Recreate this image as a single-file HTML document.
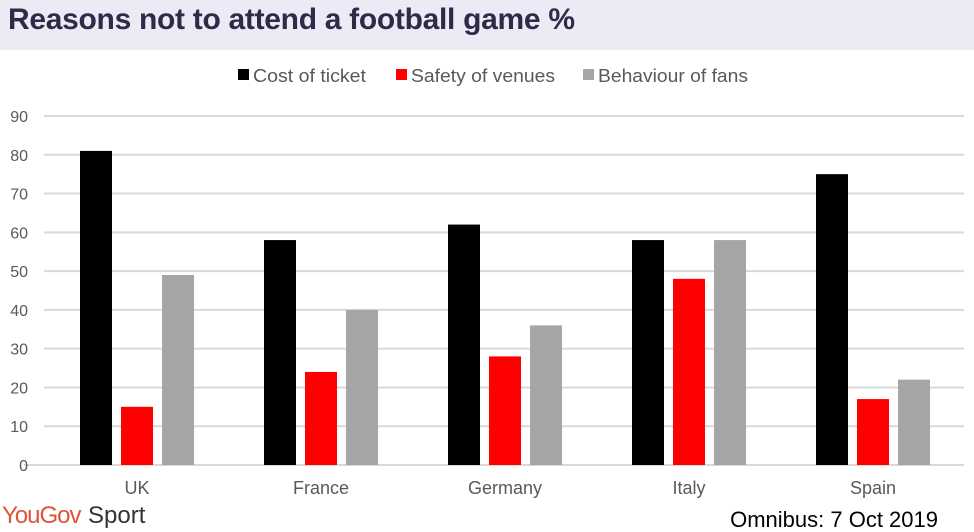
<!DOCTYPE html>
<html><head><meta charset="utf-8"><style>
body{margin:0;width:974px;height:532px;background:#fff;overflow:hidden;font-family:"Liberation Sans",sans-serif}
#title{position:absolute;left:0;top:0;width:974px;height:50px;background:#ecebf5}
#title h1{margin:0;position:absolute;left:8px;top:3px;font-size:30px;font-weight:bold;color:#2e2a48;letter-spacing:-0.3px}
svg{position:absolute;left:0;top:0}
</style></head><body>
<div id="title"><h1>Reasons not to attend a football game %</h1></div>
<svg id="chart" width="974" height="532"></svg>
<script>
const categories=["UK","France","Germany","Italy","Spain"];
const cost=[81,58,62,58,75];
const safety=[15,24,28,48,17];
const behaviour=[49,40,36,58,22];
const seriesNames=["Cost of ticket","Safety of venues","Behaviour of fans"];
const yTicks=[0,10,20,30,40,50,60,70,80,90];
const colors=["#000000","#ff0000","#a6a6a6"];
const ns="http://www.w3.org/2000/svg";
const svg=document.getElementById('chart');
const y0=465,yScale=38.78/10;
const y=v=>y0-v*yScale;
const groupW=184,x0=45;
const xc=i=>x0+groupW*i+groupW/2;
function mk(t,a){const e=document.createElementNS(ns,t);for(const k in a)e.setAttribute(k,a[k]);svg.appendChild(e);return e;}
yTicks.forEach(t=>{
 const l=mk('line',{x1:t===0?24:44,x2:964,y1:y(t),y2:y(t),stroke:'#d9d9d9','stroke-width':2});
 
 
 const tx=mk('text',{x:28,y:y(t)+6,'text-anchor':'end','font-size':16,fill:'#595959'});
 tx.textContent=t;
 
 
});
const series=[cost,safety,behaviour];
categories.forEach((c,i)=>{
 series.forEach((s,j)=>{
  const bx=xc(i)+(j-1)*41-16;
  const r=mk('rect',{x:bx,y:y(s[i]),width:32,height:s[i]*yScale,fill:colors[j]});
  
  
 });
 const t=mk('text',{x:xc(i),y:494,'text-anchor':'middle','font-size':18,fill:'#595959'});
 t.textContent=c;
 
 
});
const legX=[238,396,583];
const legW=[113,144,150];
seriesNames.forEach((n,j)=>{
 const r=mk('rect',{x:legX[j],y:69,width:11,height:11,fill:colors[j]});
 
 
 const t=mk('text',{x:legX[j]+15,y:82,'font-size':18,fill:'#595959',textLength:legW[j],lengthAdjust:'spacingAndGlyphs'});
 t.textContent=n;
 
 
});
const yg=mk('text',{x:2,y:523,'font-size':24,fill:'#e0533a','letter-spacing':'-1'});
yg.textContent='YouGov';


const sp=mk('text',{x:88,y:523,'font-size':24,fill:'#333'});
sp.textContent='Sport';


const om=mk('text',{x:938,y:527,'text-anchor':'end','font-size':22,fill:'#000'});
om.textContent='Omnibus: 7 Oct 2019';


</script>
</body></html>
